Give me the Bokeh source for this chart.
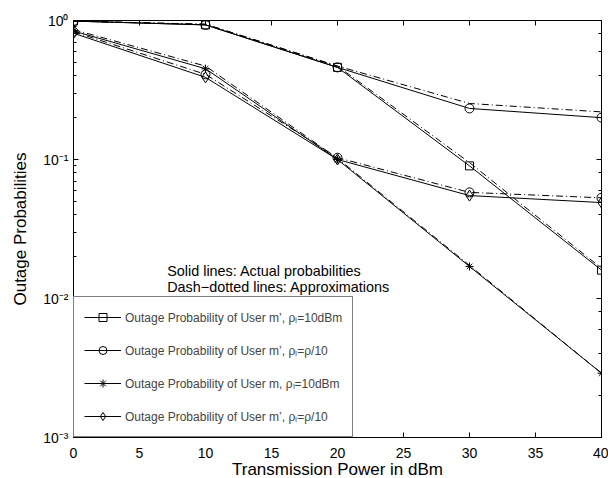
from bokeh.plotting import figure
from bokeh.models import (Range1d, LinearAxis, LogAxis, FixedTicker, CustomJSTickFormatter,
                          Label, Legend, LegendItem)
from bokeh.embed import file_html
from bokeh.resources import INLINE

# ---- data ----
power_dbm = [0, 10, 20, 30, 40]
x_ticks = [0, 5, 10, 15, 20, 25, 30, 35, 40]

sq_actual = [0.99, 0.93, 0.46, 0.090, 0.016]
sq_approx = [0.99, 0.94, 0.47, 0.095, 0.0165]
circ_actual = [0.99, 0.93, 0.46, 0.233, 0.200]
circ_approx = [0.99, 0.94, 0.47, 0.253, 0.220]
star_actual = [0.84, 0.45, 0.100, 0.0170, 0.0029]
star_approx = [0.86, 0.47, 0.102, 0.0173, 0.0029]
diam_actual = [0.81, 0.39, 0.100, 0.055, 0.049]
diam_approx = [0.83, 0.41, 0.103, 0.058, 0.053]

labels = [
    "Outage Probability of User m\u2019, \u03c1\u2097=10dBm",
    "Outage Probability of User m\u2019, \u03c1\u2097=\u03c1/10",
    "Outage Probability of User m, \u03c1\u2097=10dBm",
    "Outage Probability of User m\u2019, \u03c1\u2097=\u03c1/10",
]
note_lines = ["Solid lines: Actual probabilities", "Dash\u2212dotted lines: Approximations"]
note_x = 7.1
note_y = [0.0158, 0.0120]

FONT = "Liberation Sans"
DASHDOT = "7 3 1 3"

p = figure(frame_width=528, frame_height=417, y_axis_type="log",
           x_range=Range1d(0, 40), y_range=Range1d(1e-3, 1),
           output_backend="svg", toolbar_location=None,
           min_border_left=73, min_border_right=7, min_border_top=20, min_border_bottom=41)

p.xgrid.visible = False
p.ygrid.visible = False
p.outline_line_color = "black"
p.outline_line_width = 1
p.background_fill_color = "white"
p.border_fill_color = "white"

# actual (solid) lines with markers
r1l = p.line(power_dbm, sq_actual, line_color="black", line_width=1)
r1m = p.scatter(power_dbm, sq_actual, marker="square", size=8, line_color="black", fill_alpha=0)
r2l = p.line(power_dbm, circ_actual, line_color="black", line_width=1)
r2m = p.scatter(power_dbm, circ_actual, marker="circle", size=9, line_color="black", fill_alpha=0)
r3l = p.line(power_dbm, star_actual, line_color="black", line_width=1)
r3m = p.scatter(power_dbm, star_actual, marker="asterisk", size=8, line_color="black")
r4l = p.line(power_dbm, diam_actual, line_color="black", line_width=1)
r4m = p.scatter(power_dbm, diam_actual, marker="diamond", size=11, line_color="black", fill_alpha=0)

# approximations (dash-dotted)
for ys in (sq_approx, circ_approx, star_approx, diam_approx):
    p.line(power_dbm, ys, line_color="black", line_width=1, line_dash=DASHDOT)
p.scatter(power_dbm, diam_approx, marker="circle", size=9, line_color="black", fill_alpha=0)

legend = Legend(items=[
    LegendItem(label=labels[0], renderers=[r1l, r1m]),
    LegendItem(label=labels[1], renderers=[r2l, r2m]),
    LegendItem(label=labels[2], renderers=[r3l, r3m]),
    LegendItem(label=labels[3], renderers=[r4l, r4m]),
], location="bottom_left")
legend.margin = 0
legend.padding = 10
legend.spacing = 13
legend.glyph_width = 37
legend.glyph_height = 20
legend.label_height = 20
legend.label_standoff = 4
legend.label_text_font = FONT
legend.label_text_font_size = "12px"
legend.border_line_color = "black"
legend.border_line_width = 1
legend.background_fill_alpha = 1
p.add_layout(legend)

for txt, yy in zip(note_lines, note_y):
    p.add_layout(Label(x=note_x, y=yy, text=txt, text_font=FONT, text_font_size="14.4px",
                       text_baseline="middle", text_color="black"))

sup_fmt = CustomJSTickFormatter(code="""
const s = {'-':'\u207b','0':'\u2070','1':'\u00b9','2':'\u00b2','3':'\u00b3','4':'\u2074','5':'\u2075','6':'\u2076','7':'\u2077','8':'\u2078','9':'\u2079'};
const e = String(Math.round(Math.log10(tick)));
let out = '10';
for (const c of e) { out += s[c]; }
return out;
""")

def style_axis(ax):
    ax.axis_line_color = "black"
    ax.major_tick_in = 5
    ax.major_tick_out = 0
    ax.minor_tick_in = 3
    ax.minor_tick_out = 0
    ax.major_tick_line_color = "black"
    ax.minor_tick_line_color = "black"
    ax.major_label_text_font = FONT
    ax.major_label_text_font_size = "14px"
    ax.major_label_text_color = "black"
    ax.axis_label_text_font = FONT
    ax.axis_label_text_font_size = "17px"
    ax.axis_label_text_font_style = "normal"
    ax.axis_label_text_color = "black"

xa = p.xaxis[0]
style_axis(xa)
xa.ticker = FixedTicker(ticks=x_ticks)
xa.minor_tick_line_color = None
xa.axis_label = "Transmission Power in dBm"
xa.major_label_standoff = 10
xa.axis_label_standoff = -1

ya = p.yaxis[0]
style_axis(ya)
ya.formatter = sup_fmt
ya.axis_label = "Outage Probabilities"
ya.major_label_standoff = 5
ya.axis_label_standoff = 10

top = LinearAxis(ticker=FixedTicker(ticks=x_ticks))
style_axis(top)
top.minor_tick_line_color = None
top.major_label_text_font_size = "2px"
top.major_label_text_color = None
top.major_label_standoff = 0
p.add_layout(top, "above")

right = LogAxis()
style_axis(right)
right.major_label_text_font_size = "2px"
right.major_label_text_color = None
right.major_label_standoff = 0
p.add_layout(right, "right")

open("out.html", "w").write(file_html(p, INLINE))
